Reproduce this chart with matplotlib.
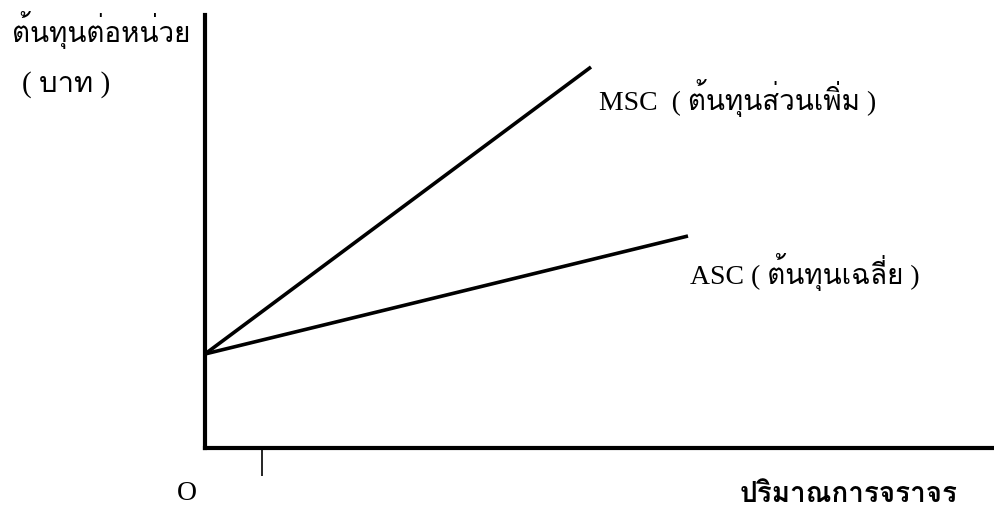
import matplotlib
matplotlib.use("Agg")
import matplotlib.pyplot as plt

plt.rcParams['font.family'] = ['Liberation Serif', 'Loma', 'DejaVu Sans']

# quantity (x) and cost (y), measured in pixels from the origin
intercept = 94
msc_q = [0, 386]
msc_c = [intercept, 381]
asc_q = [0, 483]
asc_c = [intercept, 212]
tick_q = [57]

y_title = "ต้นทุนต่อหน่วย"
y_unit = "( บาท )"
x_title = "ปริมาณการจราจร"
msc_label = "MSC  ( ต้นทุนส่วนเพิ่ม )"
asc_label = "ASC ( ต้นทุนเฉลี่ย )"

fig = plt.figure(figsize=(9.95, 5.11), dpi=100)
ax = fig.add_axes([205 / 995, 1 - 448 / 511, 788 / 995, 433 / 511])
ax.set_xlim(0, 788)
ax.set_ylim(0, 433)

ax.plot(msc_q, msc_c, color='black', lw=2.6, solid_capstyle='butt')
ax.plot(asc_q, asc_c, color='black', lw=2.6, solid_capstyle='butt')

for s in ['top', 'right']:
    ax.spines[s].set_visible(False)
for s in ['left', 'bottom']:
    ax.spines[s].set_linewidth(3)

ax.set_xticks(tick_q)
ax.set_xticklabels([''])
ax.tick_params(axis='x', direction='out', length=20, width=1.2)
ax.set_yticks([])

fs = 20
ax.text(-193, 418, y_title, fontsize=20, va='center', ha='left', clip_on=False)
ax.text(-183, 363, y_unit, fontsize=21, va='center', ha='left', clip_on=False)
ax.text(394, 350, msc_label, fontsize=fs, va='center', ha='left')
ax.text(485, 176, asc_label, fontsize=fs, va='center', ha='left')
ax.text(-18, -46, "O", fontsize=fs, va='center', ha='center', clip_on=False)
ax.text(535, -47, x_title, fontsize=20, va='center', ha='left', clip_on=False,
        family=['Loma'], weight='bold')

fig.savefig("out.png")
